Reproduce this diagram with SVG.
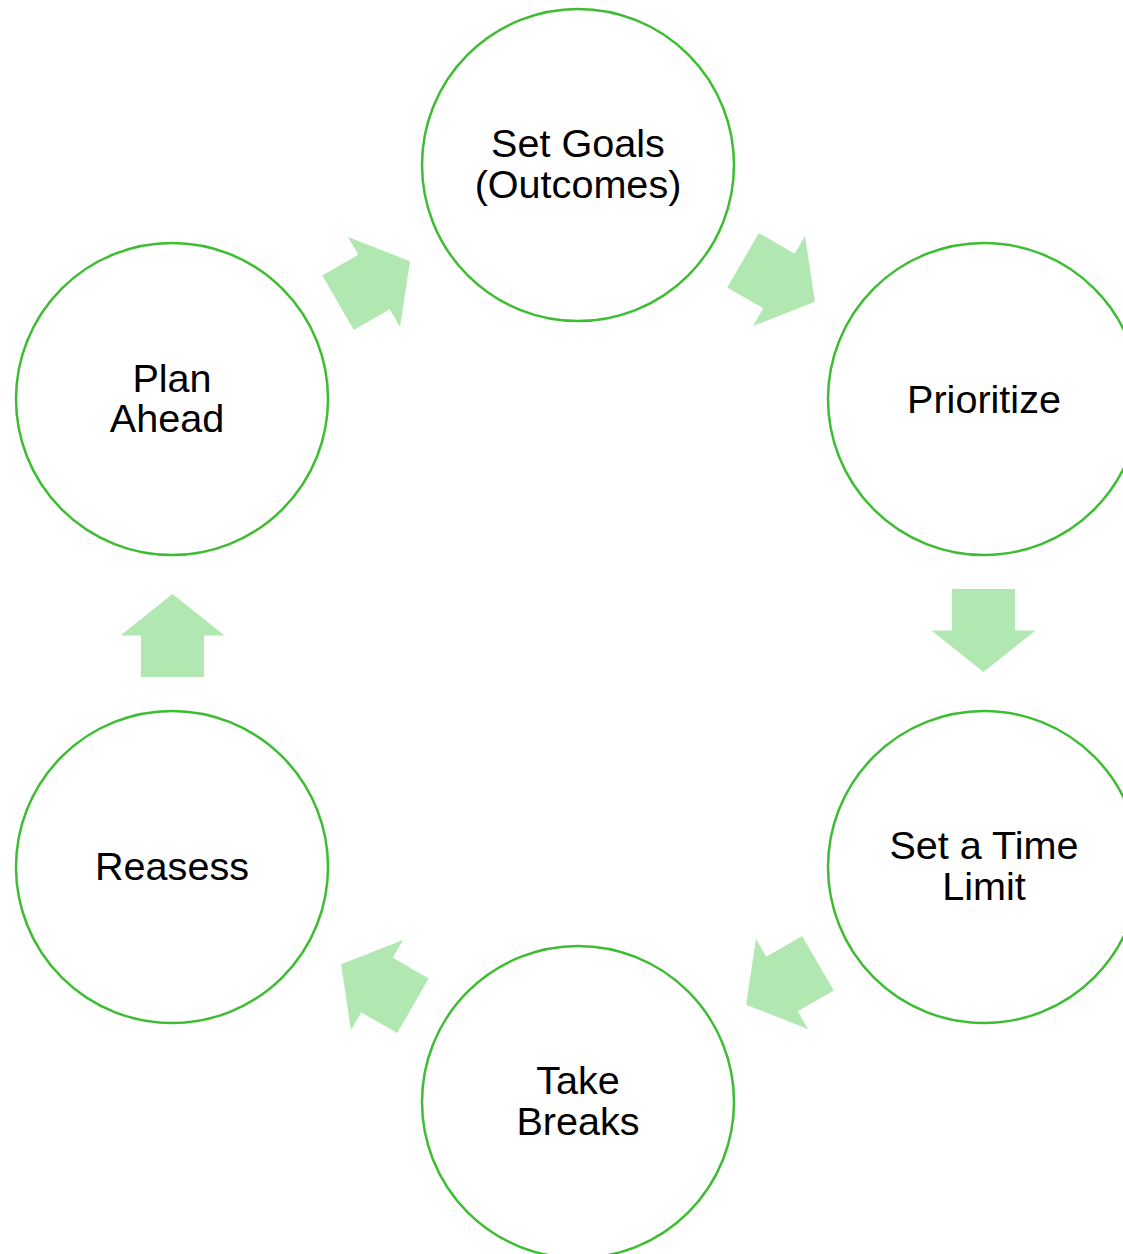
<svg xmlns="http://www.w3.org/2000/svg" width="1123" height="1254" viewBox="0 0 1123 1254">
<style>
.node{fill:#ffffff;stroke:#3dbd32;stroke-width:2.5}
.lbl{font-family:"Liberation Sans",Arial,sans-serif;font-size:39.6px;fill:#000000;text-anchor:middle}
.arr{fill:#b1e7b0;stroke:none}
</style>
<defs>
<polygon id="arrow" points="-41.5,-31.5 0,-31.5 0,-52 41.5,0 0,52 0,31.5 -41.5,31.5"/>
</defs>
<rect width="1123" height="1254" fill="#ffffff"/>
<g id="connectors">
<use href="#arrow" class="arr" transform="translate(779,281) rotate(30)"/>
<use href="#arrow" class="arr" transform="translate(983.5,630.5) rotate(90)"/>
<use href="#arrow" class="arr" transform="translate(782,984) rotate(150)"/>
<use href="#arrow" class="arr" transform="translate(377,985) rotate(210)"/>
<use href="#arrow" class="arr" transform="translate(172.5,635.5) rotate(270)"/>
<use href="#arrow" class="arr" transform="translate(374,282) rotate(330)"/>
</g>
<g id="node-set-goals">
<circle class="node" cx="578" cy="165" r="156"/>
<text class="lbl" x="578" y="157">Set Goals</text>
<text class="lbl" x="578" y="198">(Outcomes)</text>
</g>
<g id="node-prioritize">
<circle class="node" cx="984" cy="399" r="156"/>
<text class="lbl" x="984" y="413">Prioritize</text>
</g>
<g id="node-time-limit">
<circle class="node" cx="984" cy="867" r="156"/>
<text class="lbl" x="984" y="859">Set a Time</text>
<text class="lbl" x="984" y="900">Limit</text>
</g>
<g id="node-take-breaks">
<circle class="node" cx="578" cy="1102" r="156"/>
<text class="lbl" x="578" y="1094">Take</text>
<text class="lbl" x="578" y="1135">Breaks</text>
</g>
<g id="node-reasess">
<circle class="node" cx="172" cy="867" r="156"/>
<text class="lbl" x="172" y="880">Reasess</text>
</g>
<g id="node-plan-ahead">
<circle class="node" cx="172" cy="399" r="156"/>
<text class="lbl" x="172" y="392">Plan</text>
<text class="lbl" x="167" y="432">Ahead</text>
</g>
</svg>
